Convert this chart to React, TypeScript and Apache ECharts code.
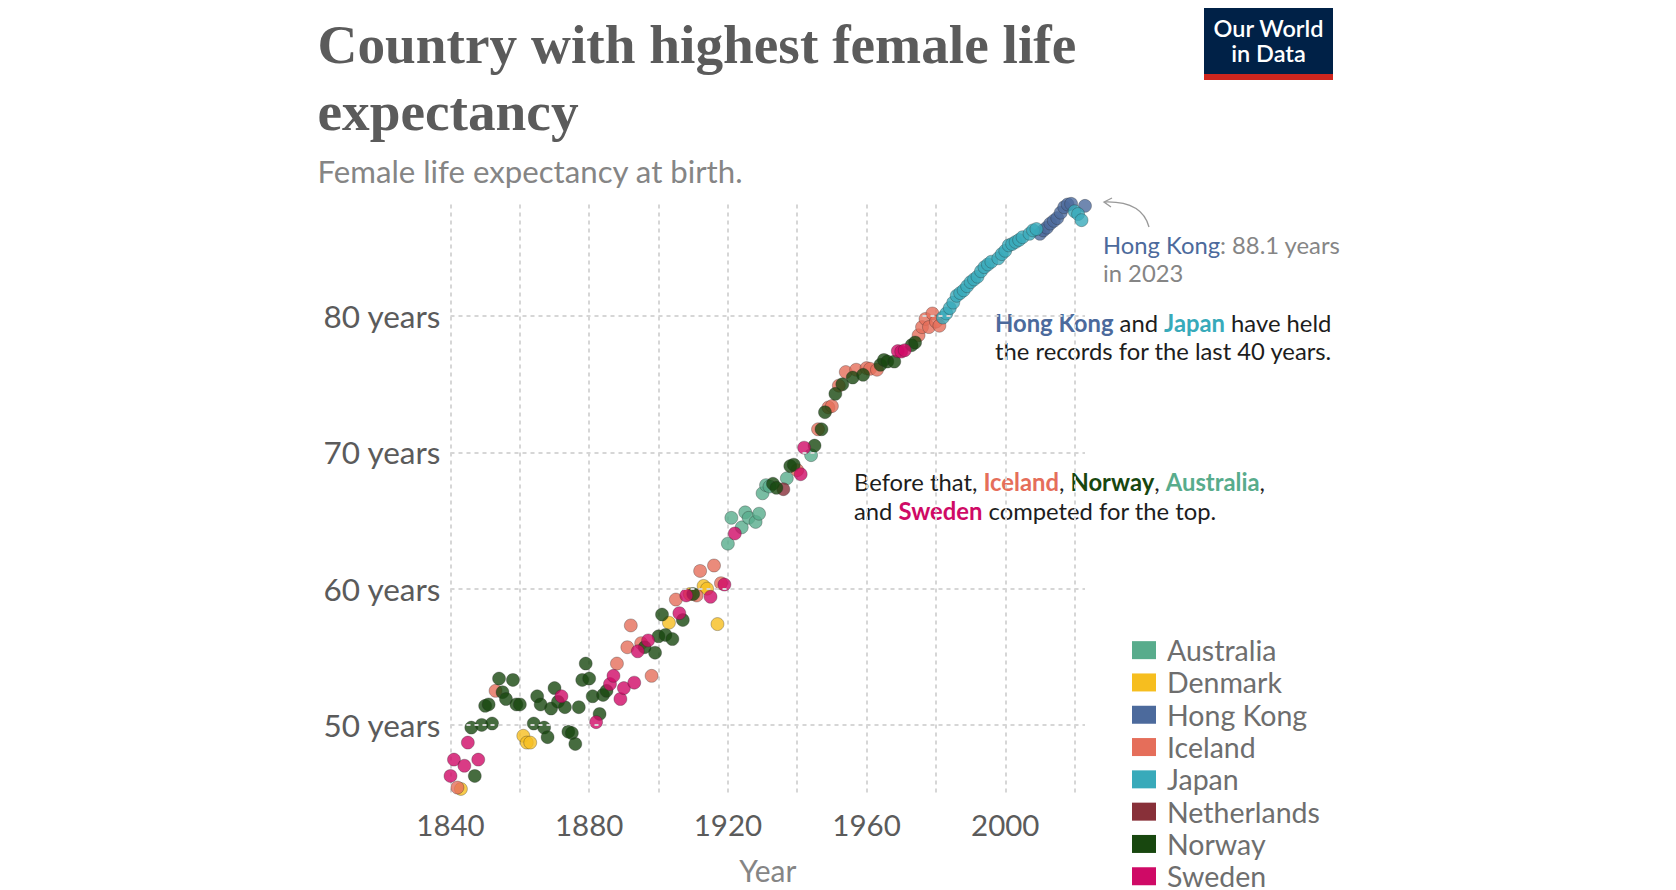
import React, { useEffect, useRef } from "react";
import * as echarts from "echarts";

// ---- Data ----
const countries = ["Australia", "Denmark", "Hong Kong", "Iceland", "Japan", "Netherlands", "Norway", "Sweden"];

const countryColors: Record<string, string> = {
  Australia: "#58AC8C",
  Denmark: "#F6BE1F",
  "Hong Kong": "#4C6A9C",
  Iceland: "#E56E5A",
  Japan: "#38AABA",
  Netherlands: "#883039",
  Norway: "#18470F",
  Sweden: "#CF0A66",
};

const australia = [
  [1920, 63.3], [1921, 65.2], [1924, 64.5], [1925, 65.6], [1926, 65.2], [1928, 64.9], [1929, 65.5],
  [1930, 67.0], [1931, 67.6], [1932, 67.5], [1937, 68.1], [1944, 69.8],
];

const denmark = [
  [1843, 45.3], [1861, 49.2], [1862, 48.7], [1863, 48.7], [1903, 57.5], [1909, 59.6], [1913, 60.2],
  [1914, 60.0], [1917, 57.4],
];

const hongKong = [
  [2010, 86.05], [2011, 86.3], [2012, 86.5], [2013, 86.8], [2014, 87.0], [2015, 87.2], [2016, 87.6],
  [2017, 88.0], [2018, 88.2], [2019, 88.25], [2023, 88.1],
];

const iceland = [
  [1842, 45.4], [1853, 52.5], [1888, 54.5], [1891, 55.7], [1892, 57.3], [1895, 56.0], [1898, 53.6],
  [1905, 59.2], [1911, 59.5], [1912, 61.3], [1916, 61.7], [1918, 60.4], [1940, 68.7], [1946, 71.7],
  [1949, 73.3], [1950, 73.4], [1952, 74.9], [1954, 75.9], [1957, 76.07], [1960, 76.19], [1961, 76.14],
  [1963, 76.07], [1975, 78.6], [1976, 79.2], [1977, 79.8], [1978, 79.2], [1979, 80.2], [1980, 79.6],
  [1981, 79.3],
];

const japan = [
  [1982, 79.9], [1983, 80.2], [1984, 80.6], [1985, 81.0], [1986, 81.5], [1987, 81.7], [1988, 81.9],
  [1989, 82.2], [1990, 82.5], [1991, 82.7], [1992, 82.9], [1993, 83.3], [1994, 83.6], [1995, 83.8],
  [1996, 84.0], [1998, 84.25], [1999, 84.56], [2000, 84.8], [2001, 85.2], [2002, 85.3], [2003, 85.45],
  [2004, 85.6], [2005, 85.8], [2007, 86.05], [2008, 86.3], [2009, 86.4], [2020, 87.7], [2021, 87.5],
  [2022, 87.05],
];

const netherlands = [[1936, 67.3]];

const norway = [
  [1846, 49.8], [1847, 46.25], [1849, 50.0], [1850, 51.4], [1851, 51.5], [1852, 50.1], [1854, 53.4],
  [1855, 52.4], [1856, 51.9], [1858, 53.3], [1859, 51.5], [1860, 51.5], [1864, 50.1], [1865, 52.1],
  [1866, 51.5], [1867, 49.8], [1868, 49.1], [1869, 51.2], [1870, 52.7], [1871, 51.7], [1873, 51.3],
  [1874, 49.5], [1875, 49.4], [1876, 48.6], [1877, 51.3], [1878, 53.3], [1879, 54.5], [1880, 53.4],
  [1881, 52.1], [1883, 50.8], [1884, 52.2], [1885, 52.5], [1896, 55.7], [1899, 55.3], [1900, 56.5],
  [1901, 58.1], [1902, 56.6], [1904, 56.3], [1907, 57.7], [1910, 59.6], [1933, 67.7], [1934, 67.4],
  [1938, 69.0], [1939, 69.1], [1945, 70.5], [1947, 71.7], [1948, 72.95], [1951, 74.3], [1953, 75.0],
  [1956, 75.5], [1959, 75.7], [1964, 76.43], [1965, 76.79], [1966, 76.67], [1968, 76.67], [1973, 77.87],
  [1974, 78.07],
];

const sweden = [
  [1840, 46.25], [1841, 47.45], [1844, 47.0], [1845, 48.7], [1848, 47.45], [1872, 52.1], [1882, 50.2],
  [1886, 53.0], [1887, 53.6], [1889, 51.9], [1890, 52.7], [1893, 53.1], [1894, 55.4], [1897, 56.2],
  [1906, 58.2], [1908, 59.5], [1915, 59.4], [1919, 60.3], [1922, 64.05], [1941, 68.4], [1942, 70.35],
  [1969, 77.44], [1970, 77.4], [1971, 77.5],
];

const seriesData: Record<string, number[][]> = {
  Australia: australia,
  Denmark: denmark,
  "Hong Kong": hongKong,
  Iceland: iceland,
  Japan: japan,
  Netherlands: netherlands,
  Norway: norway,
  Sweden: sweden,
};

const yGridValues = [50, 60, 70, 80];
const xLabelYears = [1840, 1880, 1920, 1960, 2000];

const LATO = "Lato, 'Noto Sans', sans-serif";
const SERIF = "'Liberation Serif', 'DejaVu Serif', serif";
const NOTE_SIZE = 23.8;

export default function App() {
  const ref = useRef<HTMLDivElement>(null);

  useEffect(() => {
    if (!ref.current) return;
    const chart = echarts.init(ref.current, undefined, { renderer: "svg" });

    const gridLine = { color: "#d6d6d6", width: 2, type: [4, 4] as number[] };

    const series: any[] = [
      {
        type: "scatter",
        name: "__grid",
        data: [],
        z: 0,
        silent: true,
        markLine: {
          silent: true,
          symbol: ["none", "none"],
          label: { show: false },
          lineStyle: gridLine,
          emphasis: { disabled: true },
          data: yGridValues.map((v) => ({ yAxis: v })),
        },
      },
      ...countries.map((c) => ({
        type: "scatter",
        name: c,
        data: seriesData[c],
        symbol: "circle",
        symbolSize: 13,
        clip: false,
        z: 3,
        itemStyle: {
          color: countryColors[c],
          opacity: 0.8,
          borderColor: "rgba(40,40,40,0.55)",
          borderWidth: 0.7,
        },
      })),
    ];

    chart.setOption({
      animation: false,
      grid: { left: 450.5, right: 591, top: 204.5, bottom: 89.3, containLabel: false },
      xAxis: {
        type: "value",
        min: 1840,
        max: 2023,
        interval: 20,
        axisLine: { show: false },
        axisTick: { show: false },
        splitLine: { show: true, showMaxLine: false, lineStyle: gridLine },
        axisLabel: {
          formatter: (v: number) => (xLabelYears.includes(v) ? String(v) : ""),
          fontSize: 29.5,
          color: "#5b5b5b",
          fontFamily: LATO,
          margin: 16,
          showMaxLabel: false,
        },
        name: "Year",
        nameLocation: "middle",
        nameGap: 62,
        nameTextStyle: { fontSize: 30, color: "#858585", fontFamily: LATO },
      },
      yAxis: {
        type: "value",
        min: 45,
        max: 88.2,
        interval: 5,
        axisLine: { show: false },
        axisTick: { show: false },
        splitLine: { show: false },
        axisLabel: {
          formatter: (v: number) => (yGridValues.includes(v) ? `${v} years` : ""),
          fontSize: 31.5,
          color: "#5b5b5b",
          fontFamily: LATO,
          margin: 10,
          showMaxLabel: false,
        },
      },
      legend: {
        orient: "vertical",
        left: 1127,
        top: 629,
        height: 320,
        icon: "rect",
        itemWidth: 24,
        itemHeight: 18,
        itemGap: 0,
        selectedMode: false,
        itemStyle: { opacity: 1, borderWidth: 0 },
        textStyle: { fontSize: 28.5, color: "#6e6e6e", fontFamily: LATO, lineHeight: 32.3, padding: [0, 0, 0, 6] },
        data: countries,
      },
      graphic: [
        {
          type: "text", x: 317.5, y: 44,
          style: { text: "Country with highest female life", fill: "#5b5b5b", fontSize: 55.3, fontWeight: "bold", fontFamily: SERIF, align: "left", verticalAlign: "middle" },
        },
        {
          type: "text", x: 317.5, y: 111,
          style: { text: "expectancy", fill: "#5b5b5b", fontSize: 55.3, fontWeight: "bold", fontFamily: SERIF, align: "left", verticalAlign: "middle" },
        },
        {
          type: "text", x: 317.5, y: 170.5,
          style: { text: "Female life expectancy at birth.", fill: "#858585", fontSize: 31.2, fontFamily: LATO, align: "left", verticalAlign: "middle" },
        },
        // logo
        { type: "rect", shape: { x: 1204, y: 8, width: 129, height: 67 }, style: { fill: "#002147" } },
        { type: "rect", shape: { x: 1204, y: 74, width: 129, height: 6 }, style: { fill: "#CE261E" } },
        {
          type: "text", x: 1268.5, y: 40.5,
          style: { text: "Our World\nin Data", fill: "#ffffff", fontSize: 23.5, lineHeight: 24.6, fontWeight: 600, fontFamily: LATO, align: "center", verticalAlign: "middle" },
        },
        // Hong Kong label + arrow
        {
          type: "text", x: 1103, y: 245,
          style: {
            text: "{hk|Hong Kong}: 88.1 years", fill: "#858585", fontSize: NOTE_SIZE, fontFamily: LATO, align: "left", verticalAlign: "middle",
            rich: { hk: { fill: "#4C6A9C", fontSize: NOTE_SIZE, fontFamily: LATO } },
          },
        },
        {
          type: "text", x: 1103, y: 272.5,
          style: { text: "in 2023", fill: "#858585", fontSize: NOTE_SIZE, fontFamily: LATO, align: "left", verticalAlign: "middle" },
        },
        {
          type: "bezierCurve",
          shape: { x1: 1149, y1: 227, cpx1: 1142, cpy1: 201, x2: 1105, y2: 202 },
          style: { stroke: "#999999", lineWidth: 1.3, fill: null },
        },
        {
          type: "polyline",
          shape: { points: [[1112, 198], [1104, 202], [1111, 207]] },
          style: { stroke: "#999999", lineWidth: 1.3, fill: null },
        },
        // annotation 1
        {
          type: "text", x: 995, y: 322.5,
          style: {
            text: "{hk|Hong Kong} and {jp|Japan} have held", fill: "#1d1d1d", fontSize: NOTE_SIZE, fontFamily: LATO, align: "left", verticalAlign: "middle",
            rich: {
              hk: { fill: "#4C6A9C", fontWeight: "bold", fontSize: NOTE_SIZE, fontFamily: LATO },
              jp: { fill: "#38AABA", fontWeight: "bold", fontSize: NOTE_SIZE, fontFamily: LATO },
            },
          },
        },
        {
          type: "text", x: 995, y: 350.5,
          style: { text: "the records for the last 40 years.", fill: "#1d1d1d", fontSize: NOTE_SIZE, fontFamily: LATO, align: "left", verticalAlign: "middle" },
        },
        // annotation 2
        {
          type: "text", x: 854, y: 482,
          style: {
            text: "Before that, {ic|Iceland}, {no|Norway}, {au|Australia},", fill: "#1d1d1d", fontSize: NOTE_SIZE, fontFamily: LATO, align: "left", verticalAlign: "middle",
            rich: {
              ic: { fill: "#E56E5A", fontWeight: "bold", fontSize: NOTE_SIZE, fontFamily: LATO },
              no: { fill: "#18470F", fontWeight: "bold", fontSize: NOTE_SIZE, fontFamily: LATO },
              au: { fill: "#58AC8C", fontWeight: "bold", fontSize: NOTE_SIZE, fontFamily: LATO },
            },
          },
        },
        {
          type: "text", x: 854, y: 510.5,
          style: {
            text: "and {sw|Sweden} competed for the top.", fill: "#1d1d1d", fontSize: NOTE_SIZE, fontFamily: LATO, align: "left", verticalAlign: "middle",
            rich: { sw: { fill: "#CF0A66", fontWeight: "bold", fontSize: NOTE_SIZE, fontFamily: LATO } },
          },
        },
      ],
      series,
    });

    return () => chart.dispose();
  }, []);

  return (
    <div
      ref={ref}
      style={{ position: "fixed", left: 0, top: 0, width: 1676, height: 890, background: "#ffffff" }}
    />
  );
}
